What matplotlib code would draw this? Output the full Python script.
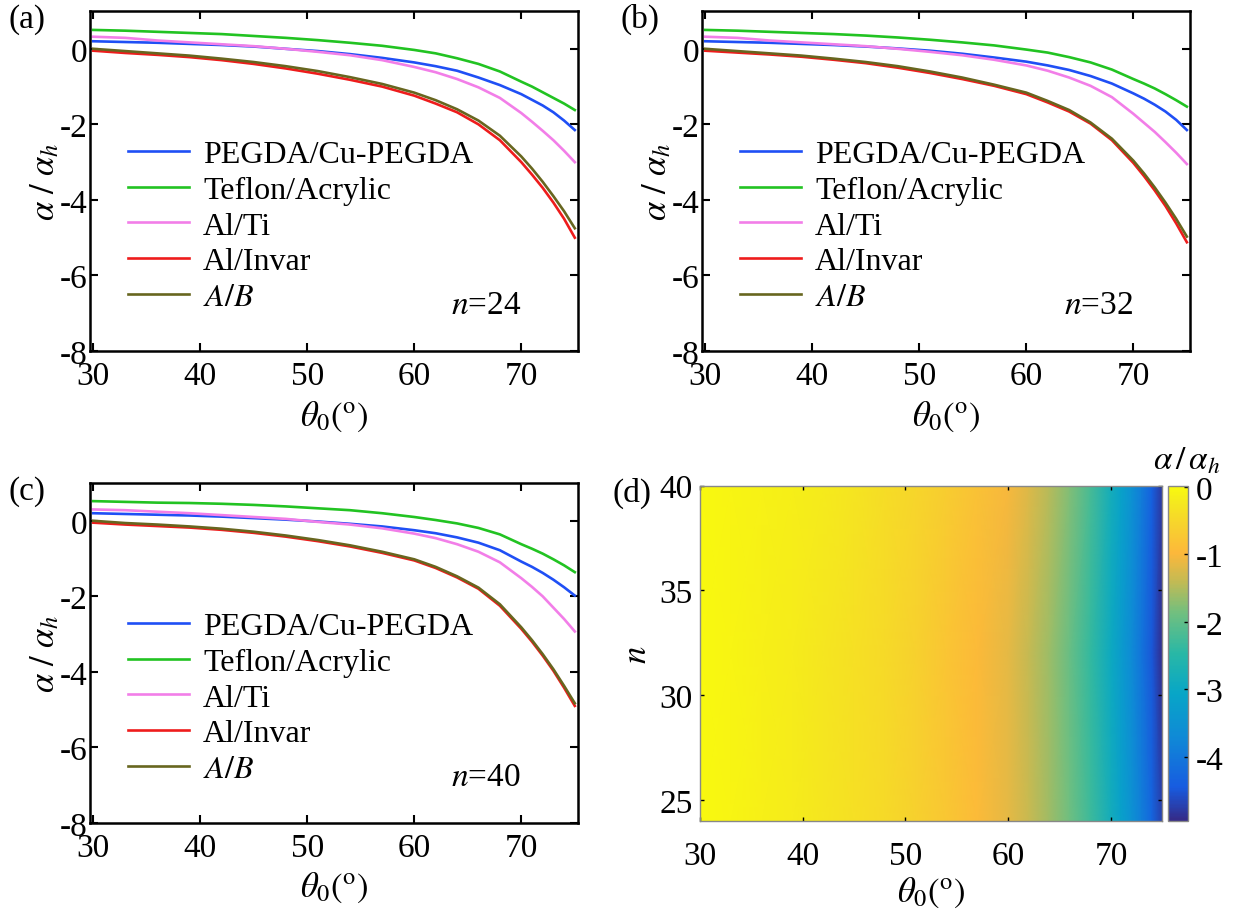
import numpy as np
import matplotlib
matplotlib.use("Agg")
import matplotlib.pyplot as plt
from matplotlib.colors import LinearSegmentedColormap

plt.rcParams['font.family'] = ['Liberation Serif', 'DejaVu Serif']
plt.rcParams['mathtext.fontset'] = 'stix'
plt.rcParams['axes.unicode_minus'] = False

theta = [30, 33, 36, 39, 42, 45, 48, 51, 54, 57, 60, 62, 64, 66, 68, 70, 71, 72, 73, 74, 75]

# n = 24
green_a = [0.50, 0.48, 0.45, 0.42, 0.39, 0.34, 0.29, 0.23, 0.16, 0.08, -0.03, -0.12, -0.25, -0.40, -0.60, -0.87, -1.00, -1.15, -1.30, -1.45, -1.62]
blue_a = [0.20, 0.18, 0.16, 0.13, 0.10, 0.06, 0.00, -0.06, -0.14, -0.24, -0.36, -0.46, -0.58, -0.76, -0.96, -1.20, -1.35, -1.50, -1.68, -1.90, -2.15]
pink_a = [0.32, 0.29, 0.22, 0.17, 0.12, 0.07, 0.00, -0.08, -0.17, -0.30, -0.48, -0.62, -0.80, -1.02, -1.30, -1.70, -1.93, -2.17, -2.42, -2.70, -3.00]
red_a = [-0.05, -0.11, -0.16, -0.22, -0.30, -0.40, -0.52, -0.66, -0.82, -1.00, -1.24, -1.45, -1.68, -2.00, -2.42, -3.00, -3.33, -3.68, -4.07, -4.50, -5.00]
olive_a = [0.00, -0.06, -0.12, -0.18, -0.26, -0.35, -0.46, -0.59, -0.75, -0.93, -1.16, -1.36, -1.60, -1.90, -2.30, -2.85, -3.17, -3.52, -3.90, -4.30, -4.75]

# n = 32
green_b = [0.50, 0.48, 0.45, 0.42, 0.39, 0.35, 0.30, 0.24, 0.17, 0.09, -0.02, -0.10, -0.22, -0.36, -0.55, -0.80, -0.92, -1.05, -1.20, -1.36, -1.53]
blue_b = [0.20, 0.18, 0.16, 0.13, 0.10, 0.06, 0.01, -0.05, -0.13, -0.23, -0.34, -0.44, -0.56, -0.72, -0.92, -1.18, -1.32, -1.48, -1.66, -1.88, -2.15]
pink_b = [0.32, 0.29, 0.22, 0.17, 0.12, 0.07, 0.00, -0.08, -0.17, -0.29, -0.44, -0.58, -0.76, -0.98, -1.28, -1.72, -1.96, -2.20, -2.47, -2.75, -3.05]
red_b = [-0.05, -0.10, -0.15, -0.21, -0.29, -0.38, -0.50, -0.64, -0.80, -0.98, -1.20, -1.42, -1.66, -1.98, -2.42, -3.02, -3.37, -3.75, -4.16, -4.62, -5.12]
olive_b = [0.00, -0.06, -0.12, -0.18, -0.26, -0.35, -0.46, -0.60, -0.76, -0.95, -1.16, -1.38, -1.62, -1.95, -2.38, -2.96, -3.30, -3.67, -4.07, -4.50, -4.97]

# n = 40
green_c = [0.52, 0.50, 0.48, 0.47, 0.45, 0.42, 0.38, 0.33, 0.28, 0.20, 0.10, 0.02, -0.07, -0.19, -0.36, -0.62, -0.74, -0.87, -1.02, -1.18, -1.36]
blue_c = [0.20, 0.18, 0.16, 0.14, 0.11, 0.07, 0.03, -0.02, -0.08, -0.15, -0.25, -0.33, -0.44, -0.58, -0.78, -1.08, -1.22, -1.38, -1.56, -1.76, -1.98]
pink_c = [0.30, 0.28, 0.24, 0.20, 0.15, 0.10, 0.05, -0.03, -0.10, -0.20, -0.34, -0.46, -0.62, -0.82, -1.10, -1.52, -1.75, -2.00, -2.30, -2.60, -2.93]
red_c = [-0.05, -0.10, -0.14, -0.18, -0.24, -0.32, -0.42, -0.54, -0.68, -0.85, -1.05, -1.25, -1.50, -1.80, -2.25, -2.86, -3.20, -3.57, -3.97, -4.42, -4.90]
olive_c = [0.00, -0.06, -0.10, -0.15, -0.21, -0.29, -0.39, -0.51, -0.65, -0.82, -1.02, -1.22, -1.47, -1.77, -2.21, -2.82, -3.16, -3.53, -3.93, -4.37, -4.83]

n_values = [24, 32, 40]
labels = ['PEGDA/Cu-PEGDA', 'Teflon/Acrylic', 'Al/Ti', 'Al/Invar', r'$A/B$']
colors = ['#1f4ff5', '#22c322', '#f27ee8', '#ee1c1c', '#67661f']

parula = LinearSegmentedColormap.from_list('parula', [
    (0.00, (0.208, 0.166, 0.529)),
    (0.10, (0.090, 0.360, 0.880)),
    (0.25, (0.060, 0.540, 0.840)),
    (0.38, (0.030, 0.650, 0.780)),
    (0.50, (0.160, 0.720, 0.650)),
    (0.62, (0.440, 0.750, 0.500)),
    (0.72, (0.780, 0.730, 0.320)),
    (0.80, (0.990, 0.720, 0.230)),
    (0.88, (0.970, 0.820, 0.180)),
    (0.95, (0.960, 0.910, 0.120)),
    (1.00, (0.976, 0.983, 0.054)),
])

fig = plt.figure(figsize=(12.34, 9.12), dpi=100)

line_axes = [
    ([0.0729, 0.614, 0.3955, 0.3728], [blue_a, green_a, pink_a, red_a, olive_a], 24, '(a)'),
    ([0.5689, 0.614, 0.3955, 0.3728], [blue_b, green_b, pink_b, red_b, olive_b], 32, '(b)'),
    ([0.0729, 0.0965, 0.3955, 0.3728], [blue_c, green_c, pink_c, red_c, olive_c], 40, '(c)'),
]

for rect, series, n, tag in line_axes:
    ax = fig.add_axes(rect)
    for y, lab, col in zip(series, labels, colors):
        ax.plot(theta, y, color=col, lw=1.9, label=lab)
    ax.set_xlim(29.7, 75.3)
    ax.set_ylim(-8, 1)
    ax.set_xticks([30, 40, 50, 60, 70])
    ax.set_yticks([0, -2, -4, -6, -8])
    ax.tick_params(direction='in', top=True, right=True, length=6, width=1.5, labelsize=24)
    ax.tick_params(axis='x', pad=7)
    ax.tick_params(axis='y', pad=2)
    for s in ax.spines.values():
        s.set_linewidth(1.8)
    ax.set_xlabel(r'$\theta_0(^{\rm o})$', fontsize=25, labelpad=5)
    ax.set_ylabel(r'$\alpha\ /\ \alpha_h$', fontsize=25, labelpad=-2)
    ax.legend(loc='center left', bbox_to_anchor=(0.078, 0.368), frameon=False,
              fontsize=23, handlelength=1.9, handletextpad=0.45, labelspacing=0.2,
              borderpad=0, borderaxespad=0)
    ax.text(0.883, 0.135, r'$n$=%d' % n, transform=ax.transAxes, ha='right', va='center', fontsize=24)
    fig.text(rect[0] - 0.066, rect[1] + rect[3] - 0.008, tag, fontsize=24, va='center', ha='left')

# (d) heat map built from the A/B curves
heat = np.array([olive_a, olive_b, olive_c])
axd = fig.add_axes([0.567, 0.0987, 0.375, 0.3677])
mesh = axd.pcolormesh(theta, n_values, heat, cmap=parula, vmin=-4.95, vmax=0.02, shading='gouraud')
axd.set_xlim(30, 75)
axd.set_ylim(24, 40)
axd.set_xticks([30, 40, 50, 60, 70])
axd.set_yticks([25, 30, 35, 40])
axd.tick_params(direction='in', top=True, right=True, length=3, width=1, labelsize=24)
axd.tick_params(axis='x', pad=14)
axd.tick_params(axis='y', pad=5)
for s in axd.spines.values():
    s.set_color('#888888')
    s.set_linewidth(1)
axd.set_xlabel(r'$\theta_0(^{\rm o})$', fontsize=25, labelpad=3)
axd.set_ylabel(r'$n$', fontsize=25, labelpad=4)
fig.text(0.496, 0.459, '(d)', fontsize=24, va='center', ha='left')

cax = fig.add_axes([0.9463, 0.0987, 0.0167, 0.3677])
cb = fig.colorbar(mesh, cax=cax)
cb.set_ticks([0, -1, -2, -3, -4])
cb.set_ticklabels(['0', '-1', '-2', '-3', '-4'])
cax.tick_params(direction='in', length=3, width=1, labelsize=24, pad=5)
cb.outline.set_edgecolor('#888888')
cb.outline.set_linewidth(1)
cax.set_title(r'$\alpha\,/\,\alpha_h$', fontsize=24, pad=12, x=0.9)

fig.savefig('out.png', dpi=100)
